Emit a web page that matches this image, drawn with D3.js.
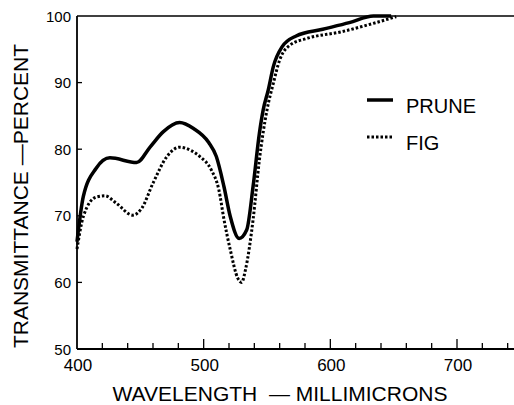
<!DOCTYPE html>
<html>
<head>
<meta charset="utf-8">
<script src="https://cdn.jsdelivr.net/npm/d3@7"></script>
<style>
  html, body { margin: 0; padding: 0; background: #fff; }
  svg { display: block; font-family: "Liberation Sans", Arial, sans-serif; }
</style>
</head>
<body>
<svg id="chart" width="514" height="405"></svg>
<script>
// Transmittance curves (wavelength in millimicrons, transmittance in percent)
const pruneWavelength = [400, 405, 415, 426, 447, 458, 468, 481, 492, 504, 510, 516, 521, 528, 534, 539, 544, 547, 551, 555, 562, 573, 594, 615, 634, 648];
const pruneValues     = [66.1, 72.9, 77.1, 78.7, 78.0, 80.4, 82.6, 84.0, 83.1, 81.0, 78.9, 74.4, 69.9, 66.6, 67.9, 74.4, 82.4, 85.9, 88.9, 92.4, 95.4, 97.0, 98.0, 99.0, 100, 100];

const figWavelength = [400, 405, 415, 422, 431, 444, 451, 460, 471, 481, 490, 497, 506, 512, 516, 521, 527, 530, 533, 539, 544, 550, 555, 560, 568, 581, 608, 634, 652];
const figValues     = [65.0, 69.9, 72.8, 73.0, 71.9, 70.1, 71.1, 74.9, 78.9, 80.3, 79.8, 78.9, 76.9, 73.9, 69.5, 64.9, 60.6, 60.0, 61.9, 69.4, 78.4, 85.9, 89.9, 93.4, 95.6, 96.6, 97.6, 98.9, 99.9];

const xTickValues = [400, 500, 600, 700];
const xMinorTicks = d3.range(400, 741, 20);
const yTickValues = [50, 60, 70, 80, 90, 100];

const seriesNames = ["PRUNE", "FIG"];

const svg = d3.select("#chart");

const x = d3.scaleLinear().domain([400, 700]).range([77, 457]);
const y = d3.scaleLinear().domain([50, 100]).range([349, 16]);
const xEnd = 514;

// Frame: left axis, bottom axis, top rule
const frame = svg.append("g").attr("stroke", "#000").attr("fill", "none");
frame.append("line").attr("x1", x(400)).attr("x2", x(400)).attr("y1", y(100)).attr("y2", y(50)).attr("stroke-width", 1.8);
frame.append("line").attr("x1", x(400)).attr("x2", xEnd).attr("y1", y(50)).attr("y2", y(50)).attr("stroke-width", 1.8);
frame.append("line").attr("x1", x(400)).attr("x2", xEnd).attr("y1", y(100)).attr("y2", y(100)).attr("stroke-width", 1.5);

// X ticks pointing up from the axis, taller at labelled values
frame.selectAll("line.xt").data(xMinorTicks.filter(d => d > 400)).join("line")
  .attr("class", "xt")
  .attr("x1", d => x(d)).attr("x2", d => x(d))
  .attr("y1", y(50))
  .attr("y2", d => y(50) - (d % 100 === 0 ? 10 : 6))
  .attr("stroke-width", 1.3);

// Y ticks pointing inward
frame.selectAll("line.yt").data(yTickValues.filter(d => d > 50 && d < 100)).join("line")
  .attr("class", "yt")
  .attr("x1", x(400)).attr("x2", x(400) + 5)
  .attr("y1", d => y(d)).attr("y2", d => y(d))
  .attr("stroke-width", 1.3);

// Tick labels
svg.append("g").selectAll("text").data(xTickValues).join("text")
  .attr("x", d => x(d) + 1)
  .attr("y", 371)
  .attr("text-anchor", "middle")
  .attr("font-size", 17)
  .text(d => d);

svg.append("g").selectAll("text").data(yTickValues).join("text")
  .attr("x", 71)
  .attr("y", d => y(d) + 5.5)
  .attr("text-anchor", "end")
  .attr("font-size", 15)
  .text(d => d);

// Axis titles
svg.append("text")
  .attr("x", 280).attr("y", 401)
  .attr("text-anchor", "middle")
  .attr("font-size", 21)
  .attr("xml:space", "preserve")
  .text("WAVELENGTH  \u2014 MILLIMICRONS");

svg.append("text")
  .attr("transform", "translate(28,196) rotate(-90)")
  .attr("text-anchor", "middle")
  .attr("font-size", 21)
  .text("TRANSMITTANCE \u2014PERCENT");

// Curves
const line = d3.line().x(d => x(d[0])).y(d => y(d[1])).curve(d3.curveMonotoneX);

const pruneData = pruneWavelength.map((w, i) => [w, pruneValues[i]]);
const figData = figWavelength.map((w, i) => [w, figValues[i]]);

svg.append("path").datum(figData)
  .attr("d", line)
  .attr("fill", "none").attr("stroke", "#000")
  .attr("stroke-width", 3)
  .attr("stroke-dasharray", "2.5,2");

svg.append("path").datum(pruneData)
  .attr("d", line)
  .attr("fill", "none").attr("stroke", "#000")
  .attr("stroke-width", 3.5)
  .attr("stroke-linejoin", "round");

// Legend
const legend = svg.append("g");
const legendRows = [
  { name: seriesNames[0], y: 100, width: 3.5, dash: null },
  { name: seriesNames[1], y: 137, width: 3, dash: "2.5,2" }
];
legendRows.forEach(r => {
  legend.append("line")
    .attr("x1", 367).attr("x2", 393)
    .attr("y1", r.y).attr("y2", r.y)
    .attr("stroke", "#000").attr("stroke-width", r.width)
    .attr("stroke-dasharray", r.dash);
  legend.append("text")
    .attr("x", 406).attr("y", r.y + 13)
    .attr("font-size", 20)
    .text(r.name);
});
</script>
</body>
</html>
